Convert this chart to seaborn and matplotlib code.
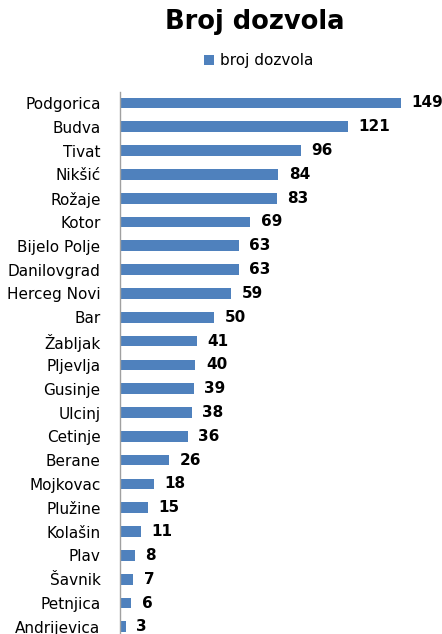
import matplotlib
matplotlib.use('Agg')
import matplotlib.pyplot as plt
import seaborn as sns
import pandas as pd

gradovi = ['Podgorica', 'Budva', 'Tivat', 'Nikšić', 'Rožaje', 'Kotor',
           'Bijelo Polje', 'Danilovgrad', 'Herceg Novi', 'Bar', 'Žabljak',
           'Pljevlja', 'Gusinje', 'Ulcinj', 'Cetinje', 'Berane', 'Mojkovac',
           'Plužine', 'Kolašin', 'Plav', 'Šavnik', 'Petnjica', 'Andrijevica']
broj_dozvola = [149, 121, 96, 84, 83, 69, 63, 63, 59, 50, 41, 40, 39, 38,
                36, 26, 18, 15, 11, 8, 7, 6, 3]

df = pd.DataFrame({'Grad': gradovi, 'broj dozvola': broj_dozvola})

sns.set_style('white')
plt.rcParams['font.family'] = ['DejaVu Sans']
plt.rcParams['text.color'] = 'black'
plt.rcParams['ytick.color'] = 'black'

fig = plt.figure(figsize=(4.42, 6.34), dpi=100)
ax = fig.add_axes([0.2715, 0.0, 0.70, 0.855])

sns.barplot(data=df, x='broj dozvola', y='Grad', orient='h', color='#4F81BD',
            width=0.45, saturation=1, linewidth=0, ax=ax, label='broj dozvola')

for i, v in enumerate(broj_dozvola):
    ax.text(v + 5.5, i, str(v), va='center', ha='left', fontsize=11,
            fontweight='bold', color='black')

ax.set_xlim(0, 164)
ax.set_ylim(22.3, -0.46)
ax.set_xlabel('')
ax.set_ylabel('')
ax.set_xticks([])
ax.tick_params(axis='y', length=0, pad=14, labelsize=11, labelcolor='black')
for s in ['top', 'right', 'bottom']:
    ax.spines[s].set_visible(False)
ax.spines['left'].set_color('#A0A0A0')
ax.spines['left'].set_linewidth(1)

fig.text(0.577, 0.965, 'Broj dozvola', ha='center', va='center',
         fontsize=18.5, fontweight='bold', color='black')
ax.legend(loc='center', bbox_to_anchor=(0.586, 0.904),
          bbox_transform=fig.transFigure, frameon=False, fontsize=11,
          handlelength=0.65, handleheight=0.65, handletextpad=0.4)

fig.savefig('out.png', dpi=100)
